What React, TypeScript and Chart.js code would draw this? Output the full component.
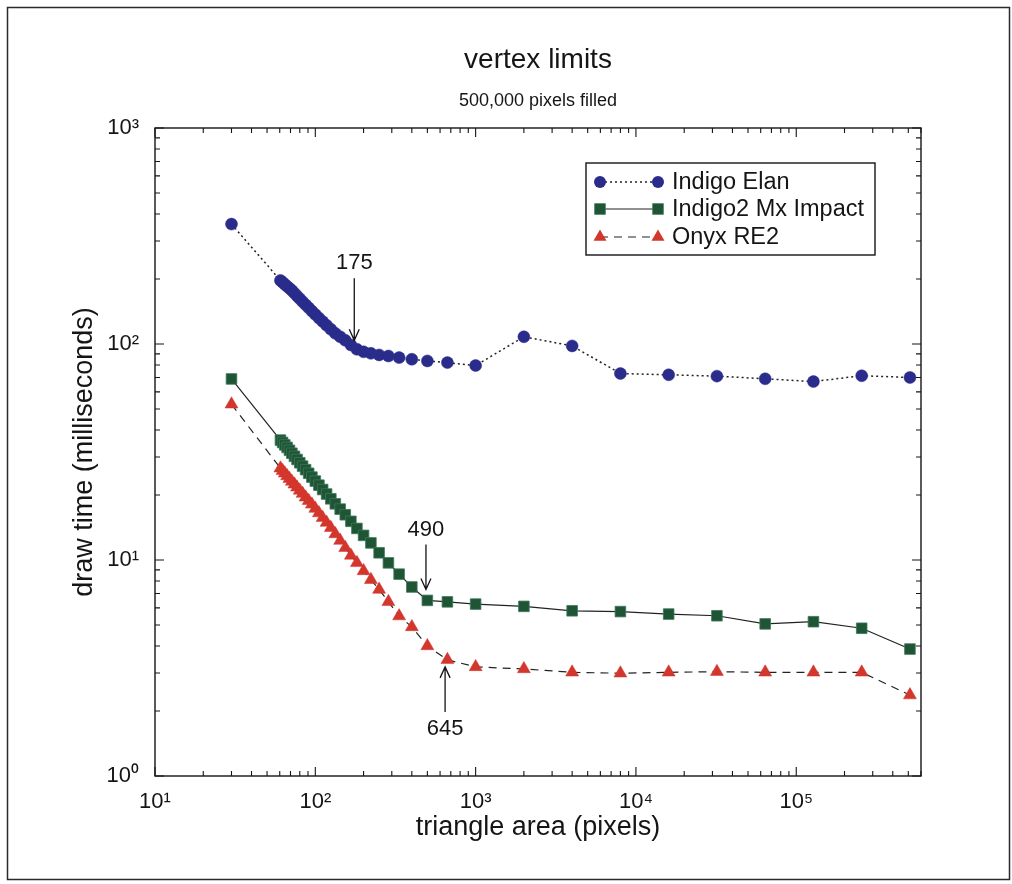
import React, { useEffect, useRef } from "react";
import { Chart, registerables } from "chart.js";

Chart.register(...registerables);

const FONT = "'Liberation Sans', Arial, Helvetica, sans-serif";
const INK = "#151515";
const BLUE = "#2a2c8c";
const GREEN = "#1f5434";
const RED = "#d3362c";

// triangle area (pixels)
const areas = [
  30, 60.6, 62.5, 64.5, 66.7, 69.0, 71.4, 74.1, 76.9, 80, 83.3, 87.0, 90.9, 95.2,
  100, 105.3, 111.1, 117.6, 125, 133.3, 142.9, 153.8, 166.7, 181.8, 200, 222.2,
  250, 285.7, 333.3, 400, 500, 666.7, 1000, 2000, 4000, 8000, 16000, 32000, 64000,
  128000, 256000, 512000,
];

// draw time (milliseconds)
const indigoElan = [
  359, 197, 193, 189, 185, 181, 177, 172, 167, 162, 157, 152, 147, 142,
  137, 132, 127, 122, 117, 112, 108, 104, 99, 94.5, 92, 90.5,
  89, 88, 86.5, 85, 83.5, 82, 79.5, 108, 98, 73, 72, 71, 69,
  67, 71.3, 70,
];

const indigo2MxImpact = [
  68.9, 35.9, 35.0, 34.1, 33.2, 32.2, 31.2, 30.2, 29.2, 28.2, 27.2, 26.2, 25.2, 24.2,
  23.2, 22.2, 21.2, 20.2, 19.2, 18.2, 17.2, 16.2, 15.1, 14.0, 13.0, 12.0,
  10.8, 9.7, 8.6, 7.5, 6.5, 6.4, 6.25, 6.1, 5.82, 5.77, 5.62, 5.52, 5.06,
  5.18, 4.83, 3.87,
];

const onyxRE2 = [
  52.6, 26.6, 25.9, 25.2, 24.5, 23.8, 23.1, 22.4, 21.7, 21.0, 20.3, 19.5, 18.8, 18.1,
  17.3, 16.5, 15.7, 14.9, 14.1, 13.2, 12.3, 11.4, 10.5, 9.7, 8.9, 8.1,
  7.3, 6.4, 5.5, 4.9, 4.0, 3.45, 3.2, 3.13, 3.02, 2.99, 3.02, 3.04, 3.02,
  3.02, 3.02, 2.37,
];

const seriesNames = ["Indigo Elan", "Indigo2 Mx Impact", "Onyx RE2"];

const xTickValues = [10, 100, 1000, 10000, 100000];
const yTickValues = [1, 10, 100, 1000];

// annotations: label, x value, arrow-tip y value, direction
const annotLabels = ["175", "490", "645"];
const annotX = [175, 490, 645];
const annotTipY = [104, 7.3, 3.2];
const annotDir = ["down", "down", "up"];

const SUP: Record<string, string> = {
  "0": "\u2070", "1": "\u00b9", "2": "\u00b2", "3": "\u00b3", "4": "\u2074",
  "5": "\u2075", "6": "\u2076", "7": "\u2077", "8": "\u2078", "9": "\u2079",
};

function powLabel(v: number): string {
  const e = Math.round(Math.log10(v));
  return "10" + String(e).split("").map((c) => SUP[c] || c).join("");
}

function drawMarker(ctx: CanvasRenderingContext2D, kind: string, x: number, y: number) {
  ctx.save();
  ctx.setLineDash([]);
  if (kind === "circle") {
    ctx.fillStyle = BLUE;
    ctx.beginPath();
    ctx.arc(x, y, 6, 0, Math.PI * 2);
    ctx.fill();
  } else if (kind === "rect") {
    ctx.fillStyle = GREEN;
    ctx.strokeStyle = "#3b7a5c";
    ctx.lineWidth = 0.8;
    ctx.fillRect(x - 5.3, y - 5.3, 10.6, 10.6);
    ctx.strokeRect(x - 5.3, y - 5.3, 10.6, 10.6);
  } else {
    ctx.fillStyle = RED;
    const r = 7.5;
    ctx.beginPath();
    ctx.moveTo(x, y - r);
    ctx.lineTo(x + r * 0.866, y + r * 0.5);
    ctx.lineTo(x - r * 0.866, y + r * 0.5);
    ctx.closePath();
    ctx.fill();
  }
  ctx.restore();
}

const decorPlugin = {
  id: "decor",
  afterDraw(chart: any) {
    const ctx: CanvasRenderingContext2D = chart.ctx;
    const { left, right, top, bottom } = chart.chartArea;
    const xs = chart.scales.x;
    const ys = chart.scales.y;
    ctx.save();

    // outer frame
    ctx.strokeStyle = "#2a2a2a";
    ctx.lineWidth = 1.5;
    ctx.strokeRect(7.5, 7.5, 1002, 872);

    // plot frame
    ctx.strokeStyle = INK;
    ctx.lineWidth = 1.4;
    ctx.strokeRect(left, top, right - left, bottom - top);

    // ticks (inward, on all four sides)
    ctx.lineWidth = 1.1;
    ctx.beginPath();
    for (let e = 1; e <= 5; e++) {
      for (let k = 1; k <= 9; k++) {
        const v = k * Math.pow(10, e);
        if (v < xs.min || v > xs.max) continue;
        const px = xs.getPixelForValue(v);
        const len = k === 1 ? 9 : 5;
        ctx.moveTo(px, bottom);
        ctx.lineTo(px, bottom - len);
        ctx.moveTo(px, top);
        ctx.lineTo(px, top + len);
      }
    }
    for (let e = 0; e <= 3; e++) {
      for (let k = 1; k <= 9; k++) {
        const v = k * Math.pow(10, e);
        if (v < ys.min || v > ys.max) continue;
        const py = ys.getPixelForValue(v);
        const len = k === 1 ? 9 : 5;
        ctx.moveTo(left, py);
        ctx.lineTo(left + len, py);
        ctx.moveTo(right, py);
        ctx.lineTo(right - len, py);
      }
    }
    ctx.stroke();

    // title & subtitle
    const cx = (left + right) / 2;
    ctx.fillStyle = INK;
    ctx.textAlign = "center";
    ctx.textBaseline = "middle";
    ctx.font = `28px ${FONT}`;
    ctx.fillText("vertex limits", cx, 60);
    ctx.font = `18px ${FONT}`;
    ctx.fillText("500,000 pixels filled", cx, 101);

    // annotations
    ctx.font = `22px ${FONT}`;
    ctx.lineWidth = 1.3;
    ctx.strokeStyle = INK;
    for (let i = 0; i < annotLabels.length; i++) {
      const tx = xs.getPixelForValue(annotX[i]);
      const ty = ys.getPixelForValue(annotTipY[i]);
      const down = annotDir[i] === "down";
      const len = i === 0 ? 62 : 45;
      const sy = down ? ty - len : ty + len;
      ctx.beginPath();
      ctx.moveTo(tx, sy);
      ctx.lineTo(tx, ty);
      const hd = down ? -1 : 1;
      ctx.moveTo(tx - 5, ty + hd * 11);
      ctx.lineTo(tx, ty);
      ctx.lineTo(tx + 5, ty + hd * 11);
      ctx.stroke();
      ctx.fillText(annotLabels[i], tx, down ? sy - 15 : sy + 17);
    }

    // legend
    const lx = right - 335;
    const ly = top + 35;
    const lw = 289;
    const lh = 92;
    ctx.fillStyle = "#ffffff";
    ctx.fillRect(lx, ly, lw, lh);
    ctx.strokeStyle = INK;
    ctx.lineWidth = 1.4;
    ctx.strokeRect(lx, ly, lw, lh);
    const kinds = ["circle", "rect", "triangle"];
    const dashes = [[2, 3], [], [8, 6]];
    const rowsY = [ly + 19, ly + 46, ly + 74];
    ctx.font = `23.5px ${FONT}`;
    ctx.textAlign = "left";
    ctx.textBaseline = "middle";
    for (let i = 0; i < 3; i++) {
      const y = rowsY[i];
      const m1 = lx + 14;
      const m2 = lx + 72;
      ctx.save();
      ctx.strokeStyle = "#222";
      ctx.lineWidth = i === 0 ? 1.5 : 1.2;
      ctx.setLineDash(dashes[i]);
      ctx.beginPath();
      ctx.moveTo(m1, y);
      ctx.lineTo(m2, y);
      ctx.stroke();
      ctx.restore();
      drawMarker(ctx, kinds[i], m1, y);
      drawMarker(ctx, kinds[i], m2, y);
      ctx.fillStyle = INK;
      ctx.fillText(seriesNames[i], lx + 86, y + 1);
    }
    ctx.restore();
  },
};

export default function App() {
  const ref = useRef<HTMLCanvasElement | null>(null);

  useEffect(() => {
    const canvas = ref.current;
    if (!canvas) return;
    const mk = (vals: number[]) => areas.map((x, i) => ({ x, y: vals[i] }));
    const chart = new Chart(canvas, {
      type: "line",
      data: {
        datasets: [
          {
            label: seriesNames[0],
            data: mk(indigoElan),
            borderColor: "#222",
            borderWidth: 1.5,
            borderDash: [2, 3],
            pointStyle: "circle",
            pointRadius: 6,
            pointBackgroundColor: BLUE,
            pointBorderColor: BLUE,
            pointBorderWidth: 0.5,
            tension: 0,
          },
          {
            label: seriesNames[1],
            data: mk(indigo2MxImpact),
            borderColor: "#222",
            borderWidth: 1.2,
            pointStyle: "rect",
            pointRadius: 7.5,
            pointBackgroundColor: GREEN,
            pointBorderColor: "#3b7a5c",
            pointBorderWidth: 0.8,
            tension: 0,
          },
          {
            label: seriesNames[2],
            data: mk(onyxRE2),
            borderColor: "#222",
            borderWidth: 1.2,
            borderDash: [8, 6],
            pointStyle: "triangle",
            pointRadius: 7.5,
            pointBackgroundColor: RED,
            pointBorderColor: RED,
            pointBorderWidth: 0.5,
            tension: 0,
          },
        ],
      },
      options: {
        animation: false,
        responsive: true,
        maintainAspectRatio: false,
        layout: { padding: { top: 128, right: 91, bottom: 0, left: 0 } },
        plugins: {
          legend: { display: false },
          tooltip: { enabled: false },
          title: { display: false },
        },
        scales: {
          x: {
            type: "logarithmic",
            min: 10,
            max: 600000,
            grid: { display: false },
            border: { display: false },
            afterBuildTicks: (s: any) => {
              s.ticks = xTickValues.map((v) => ({ value: v }));
            },
            afterFit: (s: any) => {
              s.height = 108;
            },
            ticks: {
              autoSkip: false,
              maxRotation: 0,
              padding: 5,
              color: INK,
              font: { family: FONT, size: 22 },
              callback: (v: any) => powLabel(Number(v)),
            },
            title: {
              display: true,
              text: "triangle area (pixels)",
              color: INK,
              font: { family: FONT, size: 27 },
              padding: { top: 0, bottom: 40 },
            },
          },
          y: {
            type: "logarithmic",
            min: 1,
            max: 1000,
            grid: { display: false },
            border: { display: false },
            afterBuildTicks: (s: any) => {
              s.ticks = yTickValues.map((v) => ({ value: v }));
            },
            afterFit: (s: any) => {
              s.width = 155;
            },
            ticks: {
              autoSkip: false,
              padding: 8,
              color: INK,
              font: { family: FONT, size: 22 },
              callback: (v: any) => powLabel(Number(v)),
            },
            title: {
              display: true,
              text: "draw time (milliseconds)",
              color: INK,
              font: { family: FONT, size: 27 },
              padding: { top: 68, bottom: 0 },
            },
          },
        },
      } as any,
      plugins: [decorPlugin],
    });
    return () => chart.destroy();
  }, []);

  return (
    <div
      style={{
        position: "fixed",
        left: 0,
        top: 0,
        width: 1012,
        height: 884,
        background: "#ffffff",
      }}
    >
      <canvas ref={ref} />
    </div>
  );
}
